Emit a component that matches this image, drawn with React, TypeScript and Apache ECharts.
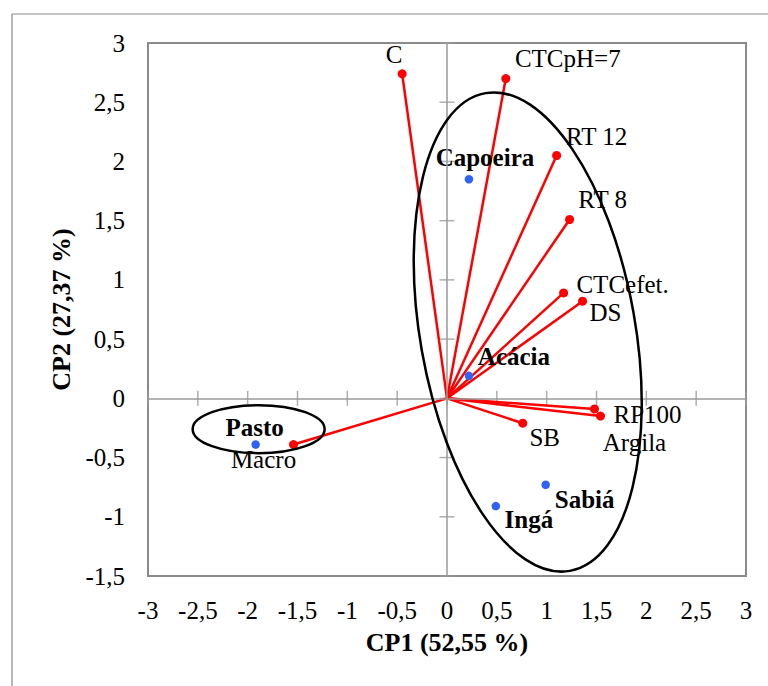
import React, { useEffect, useRef } from "react";
import * as echarts from "echarts";

// ---- data ----
const xTicks = [-3, -2.5, -2, -1.5, -1, -0.5, 0, 0.5, 1, 1.5, 2, 2.5, 3];
const yTicks = [-1.5, -1, -0.5, 0, 0.5, 1, 1.5, 2, 2.5, 3];

const variableNames = ["C", "CTCpH=7", "RT 12", "RT 8", "CTCefet.", "DS", "RP100", "Argila", "SB", "Macro"];
const variableCP1 = [-0.45, 0.59, 1.1, 1.23, 1.17, 1.36, 1.48, 1.54, 0.76, -1.54];
const variableCP2 = [2.74, 2.7, 2.05, 1.51, 0.89, 0.82, -0.09, -0.15, -0.21, -0.39];

const sampleNames = ["Capoeira", "Acácia", "Sabiá", "Ingá", "Pasto"];
const sampleCP1 = [0.22, 0.22, 0.99, 0.49, -1.92];
const sampleCP2 = [1.85, 0.19, -0.73, -0.91, -0.39];

// group ellipses (centre in data units)
const groupCentres = [
  [0.81, 0.56],
  [-1.89, -0.26],
];

// ---- layout (label offsets in px, ellipse radii in px) ----
const variableLabelOffsets = [
  [-8, -19], [62, -20], [40, -19], [33, -20], [59, -8],
  [23, 11], [53, 6], [34, 26], [22, 14], [-30, 15],
];
const sampleLabelOffsets = [[16, -22], [45, -19], [39, 15], [33, 13], [-1, -17]];
const groupShapes = [
  { rx: 107.5, ry: 242.5, rot: 10 },
  { rx: 66, ry: 24, rot: 0 },
];

const FONT = "'Liberation Serif', 'Times New Roman', serif";
const fmt = (v: number) => String(v).replace(".", ",");

export default function App() {
  const ref = useRef<HTMLDivElement>(null);
  useEffect(() => {
    if (!ref.current) return;
    const chart = echarts.init(ref.current, null, { renderer: "svg" });
    const gray = "#8a8a8a";
    const labelBase = {
      show: true, position: "inside", formatter: "{b}", color: "#000", opacity: 1,
      textBorderWidth: 0, textBorderColor: "transparent",
      fontFamily: FONT, fontSize: 25, align: "center", verticalAlign: "middle",
    };
    const option: any = {
      animation: false,
      backgroundColor: "#fff",
      grid: {
        left: 148, right: 22, top: 43, bottom: 110,
        show: true, borderColor: gray, borderWidth: 2, backgroundColor: "transparent",
      },
      xAxis: {
        type: "value", min: -3, max: 3, interval: 0.5,
        axisLine: { show: false, onZero: false },
        axisTick: { show: false },
        splitLine: { show: false },
        axisLabel: { formatter: fmt, color: "#000", fontFamily: FONT, fontSize: 25, margin: 22 },
        name: "CP1 (52,55 %)", nameLocation: "middle", nameGap: 53,
        nameTextStyle: { color: "#000", fontFamily: FONT, fontSize: 26, fontWeight: "bold" },
      },
      yAxis: {
        type: "value", min: -1.5, max: 3, interval: 0.5,
        axisLine: { show: false, onZero: false },
        axisTick: { show: false },
        splitLine: { show: false },
        axisLabel: { formatter: fmt, color: "#000", fontFamily: FONT, fontSize: 25, margin: 23 },
        name: "CP2 (27,37 %)", nameLocation: "middle", nameGap: 72,
        nameTextStyle: { color: "#000", fontFamily: FONT, fontSize: 26, fontWeight: "bold" },
      },
      series: [
        {
          type: "scatter",
          symbol: "rect",
          symbolSize: [1.5, 15],
          itemStyle: { color: "#9a9a9a" },
          silent: true,
          data: xTicks.map((v) => [v, 0]),
          markLine: {
            silent: true,
            symbol: ["none", "none"],
            label: { show: false },
            lineStyle: { color: "#9a9a9a", width: 1.5, type: "solid" },
            data: [{ xAxis: 0 }, { yAxis: 0 }],
          },
          z: 1,
        },
        {
          type: "scatter",
          symbol: "rect",
          symbolSize: [15, 1.5],
          itemStyle: { color: "#9a9a9a" },
          silent: true,
          data: yTicks.map((v) => [0, v]),
          z: 1,
        },
        {
          type: "lines",
          coordinateSystem: "cartesian2d",
          lineStyle: { color: "#ff0000", width: 2.5, opacity: 1 },
          data: variableNames.map((n, i) => ({ name: n, coords: [[0, 0], [variableCP1[i], variableCP2[i]]] })),
          z: 3,
        },
        {
          type: "scatter",
          symbol: "circle",
          symbolSize: 9,
          itemStyle: { color: "#ff0000", opacity: 1 },
          data: variableNames.map((n, i) => ({
            name: n,
            value: [variableCP1[i], variableCP2[i]],
            label: { offset: variableLabelOffsets[i] },
          })),
          label: { ...labelBase },
          z: 4,
        },
        {
          type: "scatter",
          symbol: "circle",
          symbolSize: 8.5,
          itemStyle: { color: "#2f62f5", opacity: 1 },
          data: sampleNames.map((n, i) => ({
            name: n,
            value: [sampleCP1[i], sampleCP2[i]],
            label: { offset: sampleLabelOffsets[i] },
          })),
          label: { ...labelBase, fontWeight: "bold" },
          z: 4,
        },
      ],
    };
    chart.setOption(option);

    const ellipses = groupCentres.map((c, i) => {
      const p = chart.convertToPixel({ gridIndex: 0 }, c) as number[];
      const s = groupShapes[i];
      return {
        type: "ellipse",
        x: p[0], y: p[1],
        rotation: (s.rot * Math.PI) / 180,
        shape: { cx: 0, cy: 0, rx: s.rx, ry: s.ry },
        style: { fill: "none", stroke: "#000", lineWidth: 2.5 },
        z: 50, silent: true,
      };
    });
    chart.setOption({
      graphic: [
        {
          type: "rect",
          shape: { x: 12, y: 14, width: 800, height: 720 },
          style: { fill: "none", stroke: gray, lineWidth: 1.2 },
          z: 0, silent: true,
        },
        ...ellipses,
      ],
    });
    return () => chart.dispose();
  }, []);
  return <div ref={ref} style={{ position: "fixed", left: 0, top: 0, width: 768, height: 686 }} />;
}
